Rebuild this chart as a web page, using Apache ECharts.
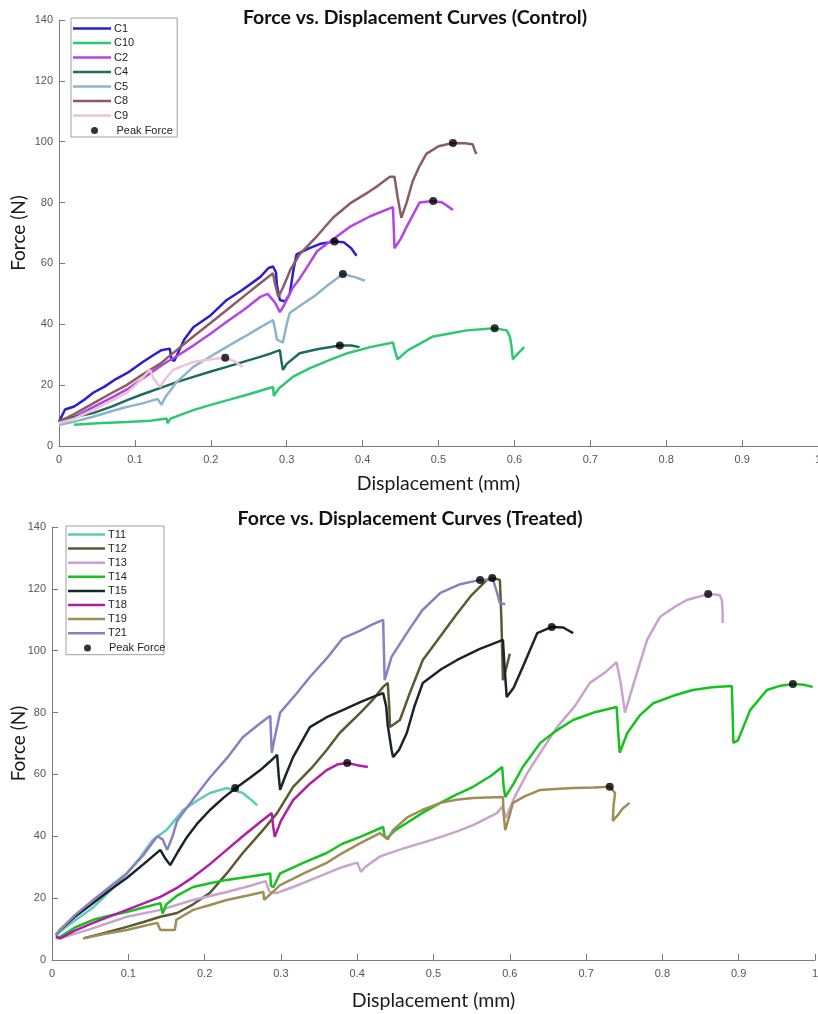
<!DOCTYPE html>
<html><head><meta charset="utf-8">
<script src="https://cdn.jsdelivr.net/npm/echarts@6/dist/echarts.min.js"></script>
<style>html,body{margin:0;padding:0;background:#fff}#c{width:818px;height:1014px}</style>
</head><body><div id="c"></div>
<script>
// ---------- Control data [displacement mm, force N] ----------
const controlNames = ['C1','C10','C2','C4','C5','C8','C9'];
const c1 = [[0.0,8],[0.004,10],[0.008,12],[0.02,13],[0.035,15.5],[0.045,17.5],[0.06,19.5],[0.075,22],[0.09,24],[0.11,27.5],[0.125,30],[0.135,31.5],[0.146,32],[0.148,28.5],[0.152,28],[0.165,35],[0.177,39],[0.2,43],[0.221,48],[0.24,51],[0.265,55.5],[0.276,58.5],[0.282,59],[0.286,57],[0.287,53],[0.291,48],[0.298,47.5],[0.304,50],[0.309,58],[0.313,63],[0.33,65],[0.345,66.5],[0.363,67.2],[0.375,67],[0.385,65],[0.392,62.5]];
const c10 = [[0.02,7],[0.05,7.5],[0.09,7.9],[0.12,8.3],[0.142,9],[0.143,7.5],[0.147,9],[0.177,11.8],[0.2,13.5],[0.221,15],[0.25,17],[0.282,19.4],[0.283,16.5],[0.29,19],[0.308,22.7],[0.33,25.5],[0.357,28.3],[0.38,30.5],[0.41,32.5],[0.44,34],[0.443,31],[0.446,28.5],[0.46,31.5],[0.493,36],[0.515,37],[0.537,38],[0.574,38.7],[0.59,38],[0.594,36],[0.596,33],[0.598,28.5],[0.605,30.5],[0.613,32.5]];
const c2 = [[0,7.5],[0.02,9.5],[0.045,12.8],[0.07,16],[0.089,18.5],[0.115,23],[0.135,26.5],[0.142,27.6],[0.155,29.5],[0.177,33],[0.2,37],[0.221,40.8],[0.245,45],[0.265,49],[0.275,50],[0.285,47],[0.291,44],[0.296,46],[0.308,52],[0.317,55],[0.33,60],[0.34,64],[0.353,66.5],[0.383,72],[0.41,75.5],[0.44,78.5],[0.441,72],[0.442,65],[0.45,68],[0.458,72],[0.475,80],[0.493,80.5],[0.505,80],[0.519,77.6]];
const c4 = [[0,8.5],[0.02,9.5],[0.045,10.8],[0.07,13],[0.089,15],[0.11,17],[0.133,19],[0.155,21],[0.177,22.7],[0.2,24.5],[0.221,26],[0.245,27.8],[0.265,29.3],[0.28,30.5],[0.291,31.5],[0.293,28],[0.295,25],[0.3,27],[0.317,30.5],[0.34,31.8],[0.37,33],[0.385,33],[0.396,32.5]];
const c5 = [[0,7],[0.02,8],[0.045,9.6],[0.07,11.5],[0.089,12.8],[0.11,14],[0.13,15.5],[0.135,13.5],[0.14,16],[0.155,21],[0.177,26],[0.2,29.5],[0.221,32.6],[0.245,36],[0.265,39],[0.282,41.4],[0.285,38],[0.287,35],[0.295,34],[0.3,40],[0.304,43.7],[0.32,46.5],[0.335,49],[0.355,53],[0.374,56.5],[0.39,55.5],[0.403,54.3]];
const c8 = [[0,8],[0.02,10.5],[0.045,14],[0.07,17.5],[0.089,20],[0.11,23.5],[0.133,27],[0.155,31.5],[0.177,36],[0.2,40.5],[0.221,44.7],[0.245,49.5],[0.265,53.5],[0.282,56.8],[0.284,54],[0.289,49],[0.295,52],[0.305,58],[0.317,63],[0.34,69],[0.361,75],[0.385,80],[0.405,83],[0.42,85.5],[0.436,88.5],[0.442,88.5],[0.446,82],[0.451,75],[0.458,80],[0.466,87],[0.475,92],[0.484,96],[0.5,98.5],[0.519,99.6],[0.535,99.5],[0.545,99.2],[0.548,97],[0.55,96]];
const c9 = [[0,7.5],[0.02,9],[0.045,11.8],[0.07,15],[0.089,17.4],[0.105,21],[0.116,24],[0.12,25],[0.125,22],[0.133,19.4],[0.14,22],[0.15,25],[0.165,26.5],[0.177,27.6],[0.2,28.5],[0.219,29],[0.23,28],[0.242,26]];
const controlPeaks = [[0.363,67.2],[0.574,38.7],[0.493,80.5],[0.37,33],[0.374,56.5],[0.519,99.6],[0.219,29]];

// ---------- Treated data ----------
const treatedNames = ['T11','T12','T13','T14','T15','T18','T19','T21'];
const t11 = [[0.005,8],[0.02,11],[0.054,17],[0.075,22],[0.098,28],[0.115,33],[0.132,38.8],[0.15,42],[0.172,48.5],[0.19,51.5],[0.207,54],[0.229,55.6],[0.25,54],[0.26,52],[0.269,50]];
const t12 = [[0.041,7],[0.07,8.8],[0.098,10.7],[0.12,12.3],[0.142,14],[0.164,15.2],[0.185,18],[0.207,21.7],[0.229,28],[0.25,34.6],[0.273,41],[0.295,47.5],[0.316,56],[0.34,62],[0.36,67.9],[0.377,73.4],[0.404,79.9],[0.42,84],[0.434,88.3],[0.44,89.6],[0.442,82],[0.443,75.3],[0.456,77.6],[0.47,87],[0.486,97],[0.51,105],[0.531,112],[0.55,118],[0.57,122.9],[0.577,123.5],[0.587,122.9],[0.589,110],[0.591,90.5],[0.596,95],[0.6,99]];
const t13 = [[0.005,7],[0.0105,7],[0.05,10],[0.098,14],[0.142,16.2],[0.185,19.4],[0.229,22],[0.26,24],[0.28,25.5],[0.285,22],[0.295,21.7],[0.316,23.6],[0.34,26],[0.36,28],[0.38,30],[0.4,31.5],[0.405,28.5],[0.41,30],[0.43,33.5],[0.46,36],[0.5,39],[0.53,41.5],[0.552,43.6],[0.583,47.5],[0.59,49.5],[0.595,46],[0.605,52],[0.623,60.5],[0.64,67],[0.662,75.3],[0.685,82],[0.705,89.6],[0.725,93],[0.74,96.3],[0.745,90],[0.751,80],[0.761,88.3],[0.78,103.5],[0.797,111],[0.815,114],[0.832,116.4],[0.86,118.3],[0.875,118],[0.878,116.4],[0.879,112],[0.879,109]];
const t14 = [[0.005,7.5],[0.0105,7.4],[0.03,10.5],[0.054,13],[0.075,14.3],[0.098,15.5],[0.12,17],[0.142,18.4],[0.145,15],[0.15,18],[0.165,21],[0.185,23.6],[0.207,24.8],[0.229,25.9],[0.26,27],[0.286,28],[0.287,24],[0.29,23.5],[0.299,28],[0.33,31.5],[0.36,34.6],[0.38,37.5],[0.404,39.8],[0.434,43],[0.436,40],[0.439,39.4],[0.45,42],[0.465,44.3],[0.485,47.5],[0.509,50.8],[0.53,53.5],[0.552,56],[0.575,59.5],[0.59,62.4],[0.592,56],[0.594,52.7],[0.605,57],[0.617,62.4],[0.64,70.2],[0.66,74],[0.683,77.6],[0.71,80],[0.74,81.8],[0.742,74],[0.744,67],[0.754,73.4],[0.77,79],[0.788,83],[0.815,85.5],[0.84,87.3],[0.865,88.2],[0.891,88.6],[0.892,80],[0.893,70.2],[0.899,71],[0.915,80.8],[0.937,87.3],[0.955,88.7],[0.971,89.2],[0.985,89],[0.997,88.3]];
const t15 = [[0.005,8],[0.0105,9.7],[0.03,14],[0.054,18.4],[0.075,22.5],[0.098,26.5],[0.12,31],[0.142,35.6],[0.148,33],[0.155,30.7],[0.165,35],[0.177,39.8],[0.19,44],[0.207,48.5],[0.225,52.5],[0.241,55.6],[0.26,59],[0.273,61.4],[0.285,64],[0.295,66.3],[0.297,60],[0.299,55],[0.305,59],[0.316,65.6],[0.338,75.3],[0.36,78.5],[0.381,80.8],[0.404,83.4],[0.42,85],[0.434,86.3],[0.438,82],[0.44,76],[0.445,68],[0.447,65.6],[0.455,68],[0.465,73.4],[0.475,82],[0.486,89.6],[0.51,94],[0.531,97],[0.56,100.5],[0.591,103.5],[0.593,95],[0.596,85],[0.605,88],[0.617,94.7],[0.636,105.7],[0.655,107.7],[0.67,107.5],[0.683,105.7]];
const t18 = [[0.005,7.5],[0.0105,7],[0.03,9.5],[0.054,12],[0.075,14],[0.098,16.2],[0.12,18.3],[0.142,20.4],[0.165,23.5],[0.185,26.8],[0.207,31],[0.229,35.6],[0.25,40],[0.273,44.6],[0.288,47.5],[0.29,43],[0.292,39.8],[0.3,45],[0.316,51.7],[0.338,57],[0.36,61.4],[0.375,63.3],[0.387,63.7],[0.4,63],[0.414,62.4]];
const t19 = [[0.041,7],[0.07,8.5],[0.098,9.7],[0.12,11],[0.138,12],[0.142,9.7],[0.161,9.7],[0.163,13],[0.185,16.2],[0.207,17.8],[0.229,19.4],[0.255,20.8],[0.277,22],[0.278,19.5],[0.285,21],[0.299,24.2],[0.33,28],[0.36,31.4],[0.38,34.5],[0.404,37.8],[0.43,41],[0.44,39],[0.447,42],[0.465,46],[0.485,48.5],[0.509,50.8],[0.53,51.8],[0.552,52.4],[0.591,52.7],[0.592,47],[0.594,42],[0.6,47],[0.604,50.8],[0.62,53],[0.64,55],[0.66,55.3],[0.683,55.6],[0.71,55.8],[0.731,56],[0.738,54],[0.736,50],[0.735,45],[0.742,47],[0.748,49],[0.757,50.8]];
const t21 = [[0.005,8],[0.0105,9.7],[0.03,14.5],[0.054,19.4],[0.075,23.5],[0.098,28],[0.12,34],[0.138,40],[0.145,39],[0.151,35.6],[0.158,40],[0.164,45],[0.185,52],[0.207,59],[0.23,65.5],[0.25,72],[0.27,76],[0.286,79],[0.287,73],[0.288,67],[0.292,72],[0.299,80],[0.32,86],[0.338,91.5],[0.36,97.5],[0.381,104],[0.404,106.5],[0.42,108.5],[0.434,110],[0.435,100],[0.436,90.5],[0.445,98],[0.465,105.7],[0.485,113],[0.509,118.7],[0.535,121.5],[0.561,122.9],[0.578,123],[0.583,119],[0.587,115.4],[0.594,115]];
const treatedPeaks = [[0.24,55.6],[0.577,123.5],[0.86,118.3],[0.971,89.2],[0.655,107.7],[0.387,63.7],[0.731,56],[0.561,122.9]];

const xTicks = [0,0.1,0.2,0.3,0.4,0.5,0.6,0.7,0.8,0.9,1];
const yTicks = [0,20,40,60,80,100,120,140];

const controlData = [c1,c10,c2,c4,c5,c8,c9];
const controlColors = ['#2a1fd0','#2ec872','#b444e6','#1e6b5c','#8db4cc','#8a5c64','#ecc4d6'];
const treatedData = [t11,t12,t13,t14,t15,t18,t19,t21];
const treatedColors = ['#5fcbb8','#5b5a32','#c9a3cb','#16c21e','#18262a','#b01ea5','#a08d55','#8a80c0'];

const chart = echarts.init(document.getElementById('c'), null, {renderer:'canvas'});

function xAxis(gi, gap){
  return {type:'value', gridIndex:gi, min:0, max:1, interval:0.1,
    name:'Displacement (mm)', nameLocation:'middle', nameGap: gap,
    nameTextStyle:{fontFamily:'Lato', fontSize:19.5, color:'#1a1a1a'},
    axisLine:{lineStyle:{color:'#7a7a7a', width:1}},
    axisTick:{inside:true, length:6, lineStyle:{color:'#7a7a7a'}},
    axisLabel:{fontFamily:'Liberation Sans', fontSize:11, color:'#555', margin:8, hideOverlap:false,
      formatter:v=>{const i = xTicks.findIndex(t=>Math.abs(t-v)<1e-9); return i>=0? String(xTicks[i]) : '';}},
    splitLine:{show:false}};
}
function yAxis(gi, gap){
  return {type:'value', gridIndex:gi, min:0, max:140, interval:20,
    name:'Force (N)', nameLocation:'middle', nameGap: gap, nameMoveOverlap:false,
    nameTextStyle:{fontFamily:'Lato', fontSize:19, color:'#1a1a1a'},
    axisLine:{show:true, lineStyle:{color:'#7a7a7a', width:1}},
    axisTick:{show:true, inside:true, length:6, lineStyle:{color:'#7a7a7a'}},
    axisLabel:{fontFamily:'Liberation Sans', fontSize:11, color:'#555', margin:6,
      formatter:v=>yTicks.includes(v)? String(v):''},
    splitLine:{show:false}};
}

const series = [];
controlNames.forEach((n,i)=>series.push({name:n, type:'line', xAxisIndex:0, yAxisIndex:0, data:controlData[i],
  symbol:'none', lineStyle:{width:2.5, color:controlColors[i]}, itemStyle:{color:controlColors[i]}, animation:false, z:2}));
series.push({name:'Peak Force', type:'scatter', xAxisIndex:0, yAxisIndex:0, data:controlPeaks, symbol:'circle', symbolSize:8,
  itemStyle:{color:'#000'}, animation:false, z:5});
treatedNames.forEach((n,i)=>series.push({name:n, type:'line', xAxisIndex:1, yAxisIndex:1, data:treatedData[i],
  symbol:'none', lineStyle:{width:2.5, color:treatedColors[i]}, itemStyle:{color:treatedColors[i]}, animation:false, z:2}));
series.push({name:'Peak Force ', type:'scatter', xAxisIndex:1, yAxisIndex:1, data:treatedPeaks, symbol:'circle', symbolSize:8,
  itemStyle:{color:'#000'}, animation:false, z:5});

const lineLegend = {orient:'vertical', icon:'rect', itemWidth:38, itemHeight:2.5,
  borderColor:'#a0a0a0', borderWidth:1, backgroundColor:'#fff', borderRadius:0,
  textStyle:{fontFamily:'Liberation Sans', fontSize:11, color:'#222', lineHeight:13, padding:[0,0,0,-2]},
  selectedMode:false, z:10};
const dotLegend = {orient:'vertical', icon:'circle', itemWidth:38, itemHeight:7, padding:0,
  textStyle:{fontFamily:'Liberation Sans', fontSize:11, color:'#222', lineHeight:13, padding:[0,0,0,-2]},
  selectedMode:false, z:11};

chart.setOption({
  animation:false,
  backgroundColor:'#fff',
  title:[
    {text:'Force vs. Displacement Curves (Control)', left:410, top:3, textAlign:'center',
      textStyle:{fontFamily:'Lato', fontWeight:'bold', fontSize:19.5, color:'#111'}},
    {text:'Force vs. Displacement Curves (Treated)', left:405, top:504, textAlign:'center',
      textStyle:{fontFamily:'Lato', fontWeight:'bold', fontSize:19.5, color:'#111'}}
  ],
  grid:[
    {left:59, top:20, width:759, height:426, containLabel:false, outerBoundsMode:'none'},
    {left:52, top:527, width:763, height:433, containLabel:false, outerBoundsMode:'none'}
  ],
  xAxis:[xAxis(0, 28), xAxis(1, 31)],
  yAxis:[yAxis(0, 31), yAxis(1, 24)],
  legend:[
    Object.assign({}, lineLegend, {left:71, top:18, padding:[4,43,15,2], itemGap:1.5, data:controlNames}),
    Object.assign({}, dotLegend, {left:91, top:124, data:['Peak Force']}),
    Object.assign({}, lineLegend, {left:66, top:526, padding:[2,37,15,2], itemWidth:37, itemGap:1.1, data:treatedNames}),
    Object.assign({}, dotLegend, {left:84, top:641.5, itemWidth:37, data:['Peak Force ']})
  ],
  series: series
});
</script></body></html>
